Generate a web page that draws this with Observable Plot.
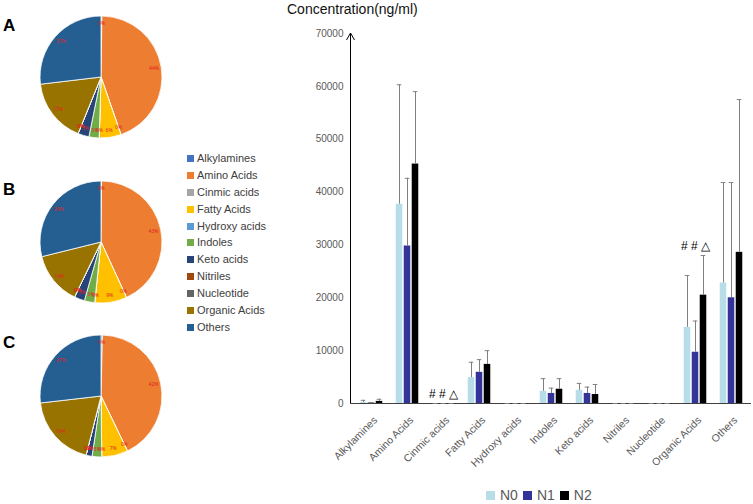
<!DOCTYPE html>
<html>
<head>
<meta charset="utf-8">
<script src="https://cdn.jsdelivr.net/npm/d3@7"></script>
<script src="https://cdn.jsdelivr.net/npm/@observablehq/plot@0.6"></script>
<style>
  body { margin: 0; background: #fff; }
  #root { position: relative; width: 753px; height: 504px; overflow: hidden; background: #fff;
          font-family: Arial, "Liberation Sans", sans-serif; }
  .abs { position: absolute; }
  .panel { font-weight: bold; font-size: 17px; color: #000; line-height: 1; }
  #pieLegend div { height: 16.9px; line-height: 16.9px; font-size: 11px; color: #404040; white-space: nowrap; }
  #pieLegend span.sw { display: inline-block; width: 7px; height: 7px; margin-right: 3px; vertical-align: 0px; }
  #barLegend { display: flex; align-items: center; font-size: 14px; color: #595959; }
  #barLegend span.sw { display: inline-block; width: 9px; height: 9px; margin-right: 5px; }
  #barLegend span.lb { margin-right: 5px; }
</style>
</head>
<body>
<div id="root"></div>
<script>
// ---------- data ----------
const categories = ["Alkylamines","Amino Acids","Cinmic acids","Fatty Acids","Hydroxy acids","Indoles","Keto acids","Nitriles","Nucleotide","Organic Acids","Others"];
const categoryColors = ["#4472C4","#ED7D31","#A5A5A5","#FFC000","#5B9BD5","#70AD47","#264478","#9E480E","#636363","#997300","#255E91"];
const seriesNames = ["N0","N1","N2"];
const seriesColors = ["#B7DEE8","#333399","#000000"];
const meanN0 = [200, 37700, 0, 4900, 0, 2300, 2500, 0, 0, 14400, 22800];
const sdN0   = [400, 22600, 0, 2900, 0, 2400, 1300, 0, 0, 9800, 19000];
const meanN1 = [100, 29800, 0, 5900, 0, 1900, 1900, 0, 0, 9700, 20000];
const sdN1   = [100, 12800, 0, 2400, 0, 1000, 1200, 0, 0, 5900, 21800];
const meanN2 = [400, 45300, 0, 7400, 0, 2700, 1700, 0, 0, 20500, 28600];
const sdN2   = [400, 13700, 0, 2600, 0, 2000, 1900, 0, 0, 7500, 28900];
const yTicks = [0, 10000, 20000, 30000, 40000, 50000, 60000, 70000];
const annotCategories = ["Cinmic acids", "Organic Acids"];
const annotLabel = "# # \u25B3";
const panelLabels = ["A", "B", "C"];
const yTitle = "Concentration(ng/ml)";

const means = [meanN0, meanN1, meanN2];
const sds = [sdN0, sdN1, sdN2];
const rows = categories.flatMap((c, i) => seriesNames.map((s, j) => ({category: c, series: s, mean: means[j][i], sd: sds[j][i]})));
const annots = annotCategories.map(c => ({category: c, top: d3.max(rows.filter(r => r.category === c), r => r.mean + r.sd)}));

const root = d3.select("#root");
const FONT = 'Arial, "Liberation Sans", sans-serif';

// ---------- pies ----------
const pieColor = Plot.scale({color: {type: "ordinal", domain: categories, range: categoryColors}});
const pieTops = [0, 165, 319];
seriesNames.forEach((s, k) => {
  const vals = means[k];
  const total = d3.sum(vals);
  const pieMark = (index, scales, values, dim) => {
    const cx = dim.width / 2, cy = dim.height / 2, r = 61;
    const arcs = d3.pie().sort(null).value(d => d.v)(categories.map((c, i) => ({c, v: vals[i]})));
    const arc = d3.arc().innerRadius(0).outerRadius(r);
    const labelArc = d3.arc().innerRadius(r * 0.88).outerRadius(r * 0.88);
    const g = d3.create("svg:g").attr("transform", `translate(${cx},${cy})`);
    g.selectAll("path").data(arcs).join("path")
      .attr("d", arc).attr("fill", d => pieColor.apply(d.data.c))
      .attr("stroke", "#fff").attr("stroke-width", 0.8);
    g.selectAll("text").data(arcs).join("text")
      .attr("transform", d => `translate(${labelArc.centroid(d)})`)
      .attr("text-anchor", "middle").attr("dy", "0.35em")
      .attr("font-size", 5).attr("fill", "#e02020")
      .text(d => Math.round(d.data.v / total * 100) + "%");
    return g.node();
  };
  const svg = Plot.plot({width: 202, height: 154, margin: 0, style: {background: "transparent"}, marks: [pieMark]});
  d3.select(svg).attr("class", "abs").style("left", "0px").style("top", pieTops[k] + "px");
  root.node().appendChild(svg);
});
const panelTops = [17, 181, 334];
panelLabels.forEach((l, k) => root.append("div").attr("class", "abs panel").style("left", "3px").style("top", panelTops[k] + "px").text(l));

// pie legend
const pl = root.append("div").attr("id", "pieLegend").attr("class", "abs").style("left", "187px").style("top", "150px");
categories.forEach(c => {
  const row = pl.append("div");
  row.append("span").attr("class", "sw").style("background", pieColor.apply(c));
  row.append("span").text(c);
});

// ---------- bar chart ----------
const offsets = [-8, 0, 8];
const bw = 401 / 11;
const barInset = (bw - 7) / 2;
const capInset = (bw - 5) / 2;
const yAxisMark = (index, scales, values, dim) => {
  const g = d3.create("svg:g");
  const x0 = dim.marginLeft + 0.5;
  const y0 = scales.y(0), y1 = scales.y(70000);
  g.append("path")
    .attr("d", `M${x0},${y0}V${y1}M${x0 - 4},${y1 + 7}L${x0},${y1}L${x0 + 4},${y1 + 7}`)
    .attr("fill", "none").attr("stroke", "#000").attr("stroke-width", 1);
  return g.node();
};
const barSvg = Plot.plot({
  width: 463, height: 470,
  marginLeft: 60, marginRight: 2, marginTop: 33, marginBottom: 67,
  style: {fontFamily: FONT, fontSize: "10px", color: "#595959", background: "transparent", overflow: "visible"},
  x: {domain: categories, padding: 0, axis: null},
  y: {domain: [0, 70000], ticks: yTicks, tickSize: 0, tickPadding: 7, tickFormat: d => String(d), label: null},
  color: {domain: seriesNames, range: seriesColors},
  marks: [
    Plot.ruleY([0], {stroke: "#404040"}),
    ...seriesNames.flatMap((s, j) => {
      const d = rows.filter(r => r.series === s);
      return [
        Plot.barY(d, {x: "category", y: "mean", fill: "series", dx: offsets[j], insetLeft: barInset, insetRight: barInset}),
        Plot.ruleX(d, {x: "category", y1: "mean", y2: r => r.mean + r.sd, dx: offsets[j], stroke: "#808080", strokeWidth: 1}),
        Plot.tickY(d, {x: "category", y: r => r.mean + r.sd, dx: offsets[j], insetLeft: capInset, insetRight: capInset, stroke: "#808080", strokeWidth: 1})
      ];
    }),
    Plot.text(annots, {x: "category", y: "top", text: () => annotLabel, dy: -9, fill: "#000", fontSize: 12, lineAnchor: "middle"}),
    Plot.text(categories, {x: d => d, y: () => 0, text: d => d, rotate: -45, textAnchor: "end", lineAnchor: "middle",
                           dx: 4, dy: 15, fill: "#595959", fontSize: 10.5}),
    yAxisMark
  ]
});
d3.select(barSvg).attr("class", "abs").style("left", "290px").style("top", "0px");
root.node().appendChild(barSvg);

root.append("div").attr("class", "abs").style("left", "287px").style("top", "1px")
  .style("font-size", "14px").style("color", "#111").text(yTitle);

// bar legend
const bl = root.append("div").attr("id", "barLegend").attr("class", "abs").style("left", "486px").style("top", "487px");
seriesNames.forEach((s, j) => {
  bl.append("span").attr("class", "sw").style("background", seriesColors[j]);
  bl.append("span").attr("class", "lb").text(s);
});
</script>
</body>
</html>
